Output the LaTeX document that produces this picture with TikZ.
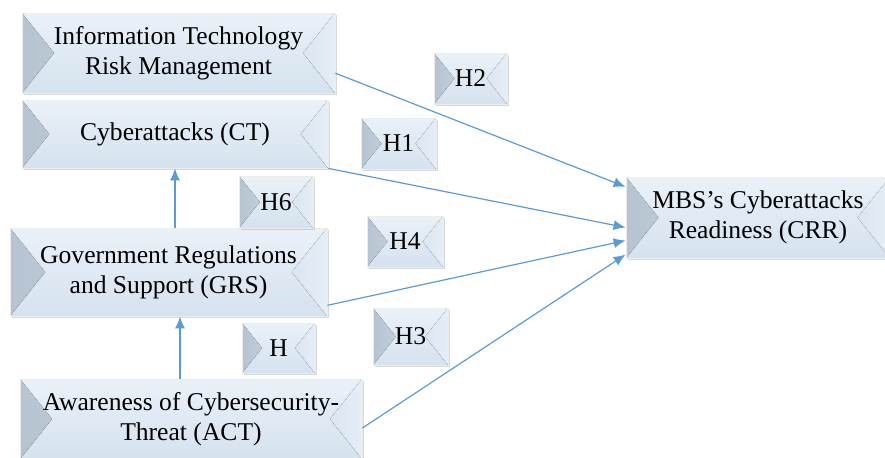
\documentclass[tikz,border=0pt]{standalone}
\usepackage{fontspec}
\setmainfont{Liberation Serif}
\usetikzlibrary{calc,shadows,arrows.meta}
\definecolor{boxtop}{HTML}{EAF1F8}
\definecolor{boxbot}{HTML}{D5E2EF}
\definecolor{bevdark}{HTML}{B6C4D1}
\definecolor{bevlight}{HTML}{E6EEF6}
\definecolor{linkblue}{HTML}{5B9BD5}
\def\bevelfill{%
  \fill[left color=bevdark,right color=boxbot!80!boxtop]
    let \p1=(path picture bounding box.north west),
        \p2=(path picture bounding box.south east),
        \n1={(\y1-\y2)/2} in
    (\p1) -- (\x1,\y2) -- (\x1+0.8*\n1,\y2+\n1) -- cycle;
  \fill[left color=boxbot!75!boxtop,right color=bevlight]
    let \p1=(path picture bounding box.north west),
        \p2=(path picture bounding box.south east),
        \n1={(\y1-\y2)/2} in
    (\p2) -- (\x2,\y1) -- (\x2-0.8*\n1,\y2+\n1) -- cycle;
}
\tikzset{
  bevelbox/.style={draw=white!85!gray,line width=0.4pt,top color=boxtop,bottom color=boxbot,
    path picture={\bevelfill},
    drop shadow={opacity=0.3,shadow xshift=0.8pt,shadow yshift=-1.2pt},
    align=center,inner sep=0pt,font=\fontsize{12.8}{15}\selectfont},
  link/.style={draw=linkblue,line width=0.6pt,-{Latex[length=6pt,width=5pt]}}
}

\begin{document}
\begin{tikzpicture}[x=0.5pt,y=-0.5pt]
		%%%%% START %%%%%
		\useasboundingbox (0,0) rectangle (885,457);
		
		% constructs
		\node[bevelbox,minimum width=156.5pt,minimum height=40pt] (itrm) at (178.5,53) {Information Technology\\Risk Management};
		\node[bevelbox,minimum width=153pt,minimum height=34pt] (ct) at (175,134) {Cyberattacks (CT)};
		\node[bevelbox,minimum width=158.5pt,minimum height=44pt] (grs) at (168.5,272) {Government Regulations\\and Support (GRS)};
		\node[bevelbox,minimum width=171pt,minimum height=40pt] (act) at (191,419) {Awareness of Cybersecurity-\\Threat (ACT)};
		\node[bevelbox,minimum width=132pt,minimum height=40.5pt] (crr) at (758,217.5) {MBS's Cyberattacks\\Readiness (CRR)};
		
		% hypotheses
		\node[bevelbox,minimum width=36.5pt,minimum height=25.5pt] (h2) at (470.5,78.5) {H2};
		\node[bevelbox,minimum width=37.5pt,minimum height=25.5pt] (h1) at (398.5,143.5) {H1};
		\node[bevelbox,minimum width=37pt,minimum height=26pt] (h6) at (276,202) {H6};
		\node[bevelbox,minimum width=38pt,minimum height=25.5pt] (h4) at (405,241.5) {H4};
		\node[bevelbox,minimum width=36.5pt,minimum height=25pt] (h5) at (278.5,348) {H};
		\node[bevelbox,minimum width=37.5pt,minimum height=28.5pt] (h3) at (410.5,336.5) {H3};
		
		% paths
		\draw[link] ($(itrm.east)!.5!(itrm.south east)$) -- ($(crr.west)!.75!(crr.north west)$);
		\draw[link] (ct.south east) -- ($(crr.west)+(0,10)$);
		\draw[link] ($(grs.east)!.75!(grs.south east)$) -- ($(crr.west)+(0,23)$);
		\draw[link] ($(act.east)+(0,9)$) -- ($(crr.west)+(0,37)$);
		\draw[link] (ct.south |- grs.north) -- (ct.south);
		\draw[link] ($(act.north)+(-11,0)$) -- ($(grs.south)+(11.5,0)$);
		%%%%% END %%%%%
\end{tikzpicture}
\end{document}
